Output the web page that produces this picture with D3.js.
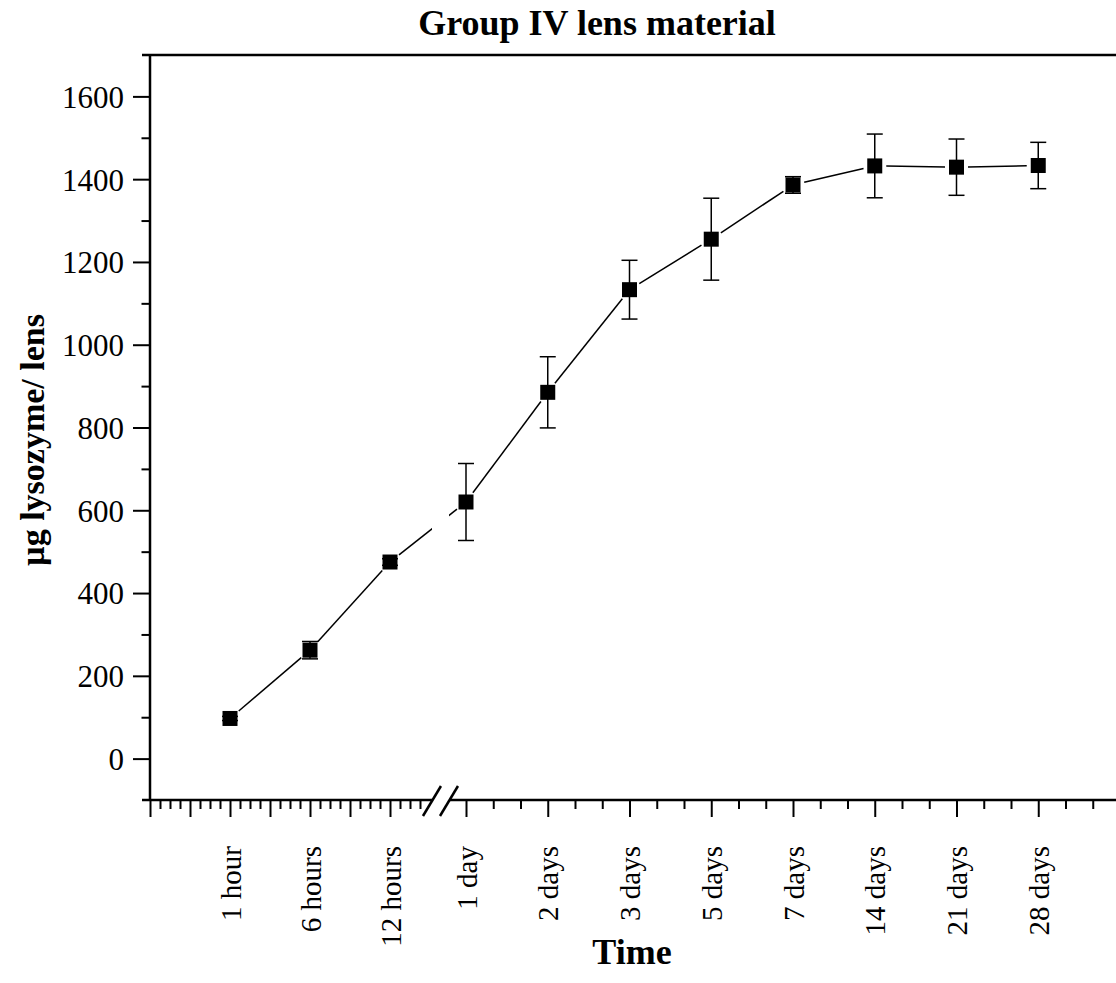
<!DOCTYPE html>
<html>
<head>
<meta charset="utf-8">
<script src="https://cdn.jsdelivr.net/npm/d3@7"></script>
<style>
  body { margin: 0; background: #fff; }
  svg { display: block; font-family: 'Liberation Serif', 'Times New Roman', serif; }
  .axis-line { stroke: #000; stroke-width: 2.5; fill: none; }
  .tick line { stroke: #000; stroke-width: 2; }
  .tick text { font-family: 'Liberation Serif', 'Times New Roman', serif; fill: #000; }
  .y-axis .tick text { font-size: 31px; }
  .x-axis .tick text { font-size: 29px; }
  .path-line { stroke: #000; stroke-width: 1.5; fill: none; }
  .err { stroke: #000; stroke-width: 1.5; }
</style>
</head>
<body>
<div id="chart"></div>
<script>
// Categories and series
const categories = ['1 hour', '6 hours', '12 hours', '1 day', '2 days', '3 days', '5 days', '7 days', '14 days', '21 days', '28 days']
const lysozyme = [97, 262, 475, 620, 885, 1133, 1255, 1386, 1432, 1429, 1433]
const errors = [5, 21, 8, 93, 86, 71, 99, 20, 77, 68, 56]
const yTicks = [0, 200, 400, 600, 800, 1000, 1200, 1400, 1600]
const yMinorTicks = [100, 300, 500, 700, 900, 1100, 1300, 1500]

const drawChart = () => {
  const width = 1116
  const height = 983

  const svg = d3.select('#chart')
    .append('svg')
    .attr('width', width)
    .attr('height', height)

  // Piecewise category scale (index -> px), broken between 12 hours and 1 day
  const x = d3.scaleLinear()
    .domain([-1, 2.4, 3, 11])
    .range([150, 422, 466, 1120])
  const breakStart = 2.536
  const breakEnd = 2.768

  const y = d3.scaleLinear()
    .domain([-100, 1700])
    .range([800, 55])

  const [yBottom, yTop] = y.range()
  const xLeft = x.range()[0]
  const xRight = width

  // Y axis - major + minor ticks
  const yAxis = svg.append('g')
    .attr('class', 'y-axis')
    .attr('transform', `translate(${xLeft}, 0)`)
    .call(d3.axisLeft(y).tickValues(yTicks).tickSize(17).tickPadding(9).tickFormat(d3.format('d')))
  yAxis.select('.domain').remove()
  yAxis.selectAll('.tick text').attr('dy', '0.35em')

  svg.append('g')
    .attr('transform', `translate(${xLeft}, 0)`)
    .call(d3.axisLeft(y).tickValues(yMinorTicks).tickSize(8.5).tickFormat(''))
    .select('.domain').remove()

  // X axis - labelled ticks
  const catIdx = categories.map((c, i) => i)
  const xAxis = svg.append('g')
    .attr('class', 'x-axis')
    .attr('transform', `translate(0, ${yBottom})`)
    .call(d3.axisBottom(x).tickValues(catIdx).tickSize(17).tickFormat(i => categories[i]))
  xAxis.select('.domain').remove()
  xAxis.selectAll('.tick text')
    .attr('transform', 'rotate(-90)')
    .attr('text-anchor', 'end')
    .attr('x', -46)
    .attr('y', 0)
    .attr('dy', '0.35em')

  // Extra long unlabelled ticks
  const longTicks = [-1, -0.5, 0.5, 1.5, 11]
  svg.append('g')
    .attr('transform', `translate(0, ${yBottom})`)
    .call(d3.axisBottom(x).tickValues(longTicks).tickSize(17).tickFormat(''))
    .select('.domain').remove()

  // Minor ticks
  const minorLeft = d3.range(0, 28).map(k => -1 + k * 0.125).filter(v => v % 0.5 !== 0)
  const minorRight = d3.range(3, 11, 1 / 3).filter(v => Math.abs(v - Math.round(v)) > 0.01)
  svg.append('g')
    .attr('transform', `translate(0, ${yBottom})`)
    .call(d3.axisBottom(x).tickValues(minorLeft.concat(minorRight)).tickSize(9).tickFormat(''))
    .select('.domain').remove()

  // Frame lines: left, top, bottom (with break)
  svg.append('line').attr('class', 'axis-line')
    .attr('x1', xLeft).attr('x2', xLeft).attr('y1', yTop).attr('y2', yBottom)
  svg.append('line').attr('class', 'axis-line')
    .attr('x1', xLeft - 8).attr('x2', xRight).attr('y1', yTop).attr('y2', yTop)
  svg.append('line').attr('class', 'axis-line')
    .attr('x1', xLeft - 8).attr('x2', x(breakStart)).attr('y1', yBottom).attr('y2', yBottom)
  svg.append('line').attr('class', 'axis-line')
    .attr('x1', x(breakEnd)).attr('x2', xRight).attr('y1', yBottom).attr('y2', yBottom)

  // Break slashes
  ;[breakStart, breakEnd].forEach(b => {
    svg.append('line').attr('class', 'axis-line')
      .attr('stroke-width', 2)
      .attr('x1', x(b) - 9).attr('y1', yBottom + 16)
      .attr('x2', x(b) + 9).attr('y2', yBottom - 14)
  })

  // Clip out the break region for the data line
  const clip = svg.append('clipPath').attr('id', 'break-clip')
  clip.append('rect').attr('x', 0).attr('y', 0).attr('width', x(breakStart)).attr('height', height)
  clip.append('rect').attr('x', x(breakEnd)).attr('y', 0).attr('width', width - x(breakEnd)).attr('height', height)

  // Data line segments, stopping short of markers
  const pts = lysozyme.map((v, i) => [x(i), y(v)])
  const gap = 11.5
  const segs = d3.pairs(pts).map(([a, b]) => {
    const dx = b[0] - a[0], dy = b[1] - a[1]
    const len = Math.hypot(dx, dy)
    const ux = dx / len, uy = dy / len
    return [[a[0] + ux * gap, a[1] + uy * gap], [b[0] - ux * gap, b[1] - uy * gap]]
  })
  svg.append('g')
    .attr('clip-path', 'url(#break-clip)')
    .selectAll('path')
    .data(segs)
    .join('path')
    .attr('class', 'path-line')
    .attr('d', d3.line())

  // Error bars
  const capW = 8
  const eb = svg.append('g')
  lysozyme.forEach((v, i) => {
    const cx = x(i)
    eb.append('line').attr('class', 'err')
      .attr('x1', cx).attr('x2', cx).attr('y1', y(v - errors[i])).attr('y2', y(v + errors[i]))
    ;[v - errors[i], v + errors[i]].forEach(e => {
      eb.append('line').attr('class', 'err')
        .attr('x1', cx - capW).attr('x2', cx + capW).attr('y1', y(e)).attr('y2', y(e))
    })
  })

  // Square markers
  const size = 15
  svg.append('g')
    .selectAll('rect')
    .data(lysozyme)
    .join('rect')
    .attr('x', (d, i) => x(i) - size / 2)
    .attr('y', d => y(d) - size / 2)
    .attr('width', size)
    .attr('height', size)
    .attr('fill', '#000')

  // Title and axis labels
  svg.append('text')
    .attr('x', 597)
    .attr('y', 35)
    .attr('text-anchor', 'middle')
    .attr('font-weight', 'bold')
    .attr('font-size', 36)
    .text('Group IV lens material')

  svg.append('text')
    .attr('transform', `translate(44, 440) rotate(-90)`)
    .attr('text-anchor', 'middle')
    .attr('font-weight', 'bold')
    .attr('font-size', 34)
    .text('µg lysozyme/ lens')

  svg.append('text')
    .attr('x', 632)
    .attr('y', 964)
    .attr('text-anchor', 'middle')
    .attr('font-weight', 'bold')
    .attr('font-size', 36)
    .text('Time')
}

drawChart()
</script>
</body>
</html>
